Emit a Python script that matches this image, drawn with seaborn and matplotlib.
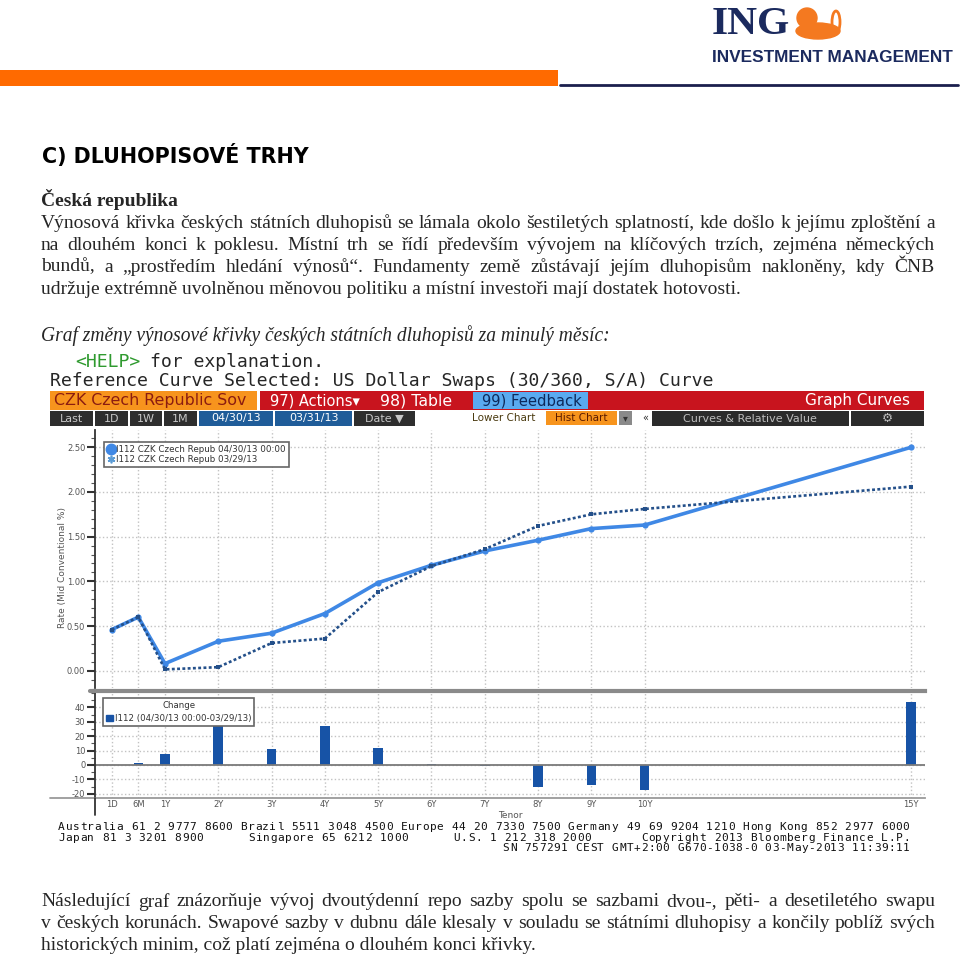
import matplotlib
matplotlib.use("Agg")
import matplotlib.pyplot as plt
import seaborn as sns
from matplotlib.patches import Rectangle, Ellipse, Circle, Patch
from matplotlib.lines import Line2D
from matplotlib.ticker import MultipleLocator

# tenors and curves
tenor_labels = ["1D", "6M", "1Y", "2Y", "3Y", "4Y", "5Y", "6Y", "7Y", "8Y", "9Y", "10Y", "15Y"]
tenor_years = [0.0, 0.5, 1, 2, 3, 4, 5, 6, 7, 8, 9, 10, 15]
curve_apr30 = [0.46, 0.60, 0.08, 0.33, 0.42, 0.64, 0.985, 1.18, 1.34, 1.46, 1.59, 1.63, 2.50]
curve_mar29 = [0.46, 0.60, 0.015, 0.04, 0.31, 0.36, 0.88, 1.17, 1.36, 1.62, 1.75, 1.81, 2.06]
change_bp = [0.3, 1.2, 7.4, 30, 10.9, 27.2, 11.5, 1.0, -1.0, -15.5, -13.9, -17.6, 43.9]
rate_ticks = [0.0, 0.5, 1.0, 1.5, 2.0, 2.5]
change_ticks = [-20, -10, 0, 10, 20, 30, 40]

# page text
heading = "C) DLUHOPISOVÉ TRHY"
subheading = "Česká republika"
para1 = [
    "Výnosová křivka českých státních dluhopisů se lámala okolo šestiletých splatností, kde došlo k jejímu zploštění a",
    "na dlouhém konci k poklesu. Místní trh se řídí především vývojem na klíčových trzích, zejména německých",
    "bundů, a „prostředím hledání výnosů“. Fundamenty země zůstávají jejím dluhopisům nakloněny, kdy ČNB",
    "udržuje extrémně uvolněnou měnovou politiku a místní investoři mají dostatek hotovosti.",
]
chart_caption = "Graf změny výnosové křivky českých státních dluhopisů za minulý měsíc:"
para2 = [
    "Následující graf znázorňuje vývoj dvoutýdenní repo sazby spolu se sazbami dvou-, pěti- a desetiletého swapu",
    "v českých korunách. Swapové sazby v dubnu dále klesaly v souladu se státními dluhopisy a končily poblíž svých",
    "historických minim, což platí zejména o dlouhém konci křivky.",
]
footer_lines = [
    "Australia 61 2 9777 8600 Brazil 5511 3048 4500 Europe 44 20 7330 7500 Germany 49 69 9204 1210 Hong Kong 852 2977 6000",
    "SN 757291 CEST GMT+2:00 G670-1038-0 03-May-2013 11:39:11",
]
footer_mid = ["Japan 81 3 3201 8900", "Singapore 65 6212 1000", "U.S. 1 212 318 2000",
              "Copyright 2013 Bloomberg Finance L.P."]

sns.set_style("white")
plt.rcParams["font.family"] = ["DejaVu Sans"]
plt.rcParams["axes.unicode_minus"] = False

W, H = 960, 957
fig = plt.figure(figsize=(W / 100, H / 100), dpi=100)
fig.patch.set_facecolor("white")
rend = fig.canvas.get_renderer()


def box(x0, y0, x1, y1, color, ec="none", lw=0):
    fig.patches.append(Rectangle((x0 / W, 1 - y1 / H), (x1 - x0) / W, (y1 - y0) / H,
                                 transform=fig.transFigure, facecolor=color,
                                 edgecolor=ec, linewidth=lw))


def hline(x0, x1, y, color, lw):
    fig.lines.append(Line2D([x0 / W, x1 / W], [1 - y / H, 1 - y / H],
                            transform=fig.transFigure, color=color, lw=lw))


def vline(x, y0, y1, color, lw):
    fig.lines.append(Line2D([x / W, x / W], [1 - y0 / H, 1 - y1 / H],
                            transform=fig.transFigure, color=color, lw=lw))


def put(x, y, s, size, family="DejaVu Sans", ha="left", width=None, **kw):
    t = fig.text(x / W, 1 - y / H, s, fontsize=size, family=family, ha=ha, va="center", **kw)
    if width:
        w = t.get_window_extent(rend).width
        t.set_fontsize(size * width / w)
    return t


def justified(y, line, size=14, x0=41, x1=935):
    words = line.split(" ")
    objs = [put(x0, y, w, size, family="Liberation Serif") for w in words]
    widths = [o.get_window_extent(rend).width for o in objs]
    gap = (x1 - x0 - sum(widths)) / (len(words) - 1)
    x = x0
    for o, w in zip(objs, widths):
        o.set_x(x / W)
        x += w + gap


CW = 7.28  # character cell of the Bloomberg terminal footer


def mono_line(x0, y, s, size=8):
    for i, ch in enumerate(s):
        if ch != " ":
            put(x0 + (i + 0.5) * CW, y, ch, size, family="DejaVu Sans Mono", ha="center",
                color="#111111")


# ---- header with logo
box(0, 70, 558, 86, "#ff6a00")
hline(560, 958, 85, "#1b1f4d", 2)
put(712, 25, "ING", 30, family="Liberation Serif", weight="bold", color="#1b2a5e", width=78)
lion = "#f47920"
fig.patches.append(Ellipse((818 / W, 1 - 31 / H), 44 / W, 16 / H, transform=fig.transFigure, color=lion))
fig.patches.append(Circle((807 / W, 1 - 18 / H), 10 / W, transform=fig.transFigure, color=lion))
fig.patches.append(Ellipse((836 / W, 1 - 22 / H), 8 / W, 22 / H, transform=fig.transFigure,
                           facecolor="none", edgecolor=lion, lw=2))
put(712, 57, "INVESTMENT MANAGEMENT", 13, family="Liberation Sans", weight="bold",
    color="#1b2a5e", width=243)

# ---- section text
put(42, 156, heading, 15, weight="bold", color="black", width=267)
put(41, 200, subheading, 14, family="Liberation Serif", weight="bold")
for y, line in zip([223, 245, 267], para1[:3]):
    justified(y, line)
put(41, 290, para1[3], 14, family="Liberation Serif")
put(41, 336, chart_caption, 14, family="Liberation Serif", style="italic", width=571)

# ---- Bloomberg screen header
mono = "DejaVu Sans Mono"
ref = put(50, 381, "Reference Curve Selected: US Dollar Swaps (30/360, S/A) Curve", 13,
          family=mono, width=668)
msize = ref.get_fontsize()
put(75, 362, "<HELP>", msize, family=mono, color="#2f9a2f")
put(150, 362, "for explanation.", msize, family=mono)

# toolbar row 1
box(50, 391, 257, 410, "#f7941d")
put(54, 400.5, "CZK Czech Republic Sov", 11, color="#8b1c10", width=193)
box(260, 391, 924, 410, "#c8141e")
put(270, 400.5, "97) Actions▾", 11, color="white", width=90)
put(380, 400.5, "98) Table", 11, color="white", width=72)
box(473, 392, 588, 409, "#5aaaf0")
put(482, 400.5, "99) Feedback", 11, color="#0d2a5c", width=100)
put(910, 400.5, "Graph Curves", 11, ha="right", color="white")

# toolbar row 2
row2 = [(50, 93, "Last", "#2e2e2e"), (95, 128, "1D", "#2e2e2e"), (130, 162, "1W", "#2e2e2e"),
        (164, 197, "1M", "#2e2e2e"), (199, 273, "04/30/13", "#1f5c99"),
        (275, 352, "03/31/13", "#1f5c99"), (354, 415, "Date ▼", "#2e2e2e")]
for x0, x1, lab, col in row2:
    box(x0, 411, x1, 426, col)
    put((x0 + x1) / 2, 418.5, lab, 8, ha="center",
        color="white" if col == "#1f5c99" else "#c8c8c8")
put(472, 418, "Lower Chart", 7.5, color="#4a3a10")
box(546, 411, 617, 425, "#f7941d")
put(581, 418, "Hist Chart", 7.5, ha="center", color="#5a1a00")
box(619, 411, 632, 425, "#8a8a8a")
put(625.5, 418, "▾", 7, ha="center", color="#333333")
put(645, 418, "«", 7, ha="center", color="#333333")
box(652, 411, 849, 426, "#2b2b2b")
put(750, 418.5, "Curves & Relative Value", 8, ha="center", color="#bdbdbd")
box(851, 411, 924, 426, "#2b2b2b")
put(887, 418.5, "⚙", 9, ha="center", color="#bdbdbd")

# ---- upper chart: yield curves
ax1 = fig.add_axes([95 / W, 1 - 688 / H, 830 / W, 258 / H])
sns.lineplot(x=tenor_years, y=curve_apr30, ax=ax1, color="#3f88e5", lw=2.6,
             marker="o", markersize=4.5, markeredgewidth=0)
sns.lineplot(x=tenor_years, y=curve_mar29, ax=ax1, color="#24508a", lw=1.9,
             linestyle=(0, (1.1, 0.9)), marker="s", markersize=3, markeredgewidth=0)
ax1.set_xlim(-0.313, 15.26)
ax1.set_ylim(-0.193, 2.693)
ax1.set_xticks(tenor_years)
ax1.set_yticks(rate_ticks)
ax1.set_yticklabels([f"{v:.2f}" for v in rate_ticks])
ax1.yaxis.set_minor_locator(MultipleLocator(0.1))
ax1.tick_params(axis="x", length=0, labelbottom=False)
ax1.tick_params(axis="y", which="major", left=True, length=6, width=1.5, color="#333333",
                labelsize=6, labelcolor="#555555", pad=1)
ax1.tick_params(axis="y", which="minor", left=True, length=3, width=0.8, color="#555555")
ax1.grid(True, which="major", linestyle=":", color="#c2c2c2", lw=1)
for side in ["top", "right", "bottom"]:
    ax1.spines[side].set_visible(False)
ax1.spines["left"].set_color("#333333")
ax1.spines["left"].set_linewidth(1.3)
ax1.set_xlabel("")
ax1.set_ylabel("")
leg1 = ax1.legend(handles=[
    Line2D([], [], lw=0, marker="o", ms=7.5, color="#3f88e5"),
    Line2D([], [], lw=0, marker=(6, 2, 0), ms=5.5, color="#5b9bd5", markeredgewidth=1.2)],
    labels=["I112 CZK Czech Repub 04/30/13 00:00", "I112 CZK Czech Repub 03/29/13"],
    loc="upper left", bbox_to_anchor=(5 / 830, 1 - 8 / 258), fontsize=6.3,
    frameon=True, fancybox=False, framealpha=1, edgecolor="#666666",
    borderpad=0.35, handlelength=0.8, handletextpad=0.2, labelspacing=0.1)
leg1.get_frame().set_linewidth(1.2)
for t in leg1.get_texts():
    t.set_color("#333333")
put(62, 567, "Rate (Mid Conventional %)", 6.5, ha="center", rotation=90, color="#555555")

# ---- lower chart: change in bp
ax2 = fig.add_axes([95 / W, 1 - 798 / H, 830 / W, 107 / H])
sns.barplot(x=tenor_years, y=change_bp, ax=ax2, native_scale=True, width=0.36,
            color="#1753a6", saturation=1, edgecolor="none")
ax2.axhline(0, color="#7a7a7a", lw=1.3, zorder=1)
ax2.set_xlim(-0.313, 15.26)
ax2.set_ylim(-22.9, 51.3)
ax2.set_xticks(tenor_years)
ax2.set_xticklabels(tenor_labels)
ax2.set_yticks(change_ticks)
ax2.yaxis.set_minor_locator(MultipleLocator(5))
ax2.tick_params(axis="x", length=0, labelsize=6, labelcolor="#555555", pad=1.5)
ax2.tick_params(axis="y", which="major", left=True, length=6, width=1.5, color="#333333",
                labelsize=6, labelcolor="#555555", pad=1)
ax2.tick_params(axis="y", which="minor", left=True, length=3, width=0.8, color="#555555")
ax2.grid(True, which="major", linestyle=":", color="#c2c2c2", lw=1)
ax2.set_axisbelow(True)
ax2.spines["right"].set_visible(False)
ax2.spines["top"].set_color("#8a8a8a")
ax2.spines["top"].set_linewidth(3)
ax2.spines["bottom"].set_color("#9a9a9a")
ax2.spines["bottom"].set_linewidth(1.3)
ax2.spines["left"].set_color("#333333")
ax2.spines["left"].set_linewidth(1.3)
ax2.set_xlabel("")
ax2.set_ylabel("")
leg2 = ax2.legend(handles=[Patch(color="#1753a6")], labels=["I112 (04/30/13 00:00-03/29/13)"],
                  title="Change", loc="upper left", bbox_to_anchor=(4 / 830, 1 - 3 / 107),
                  fontsize=6.2, title_fontsize=6.2, frameon=True, fancybox=False, framealpha=1,
                  edgecolor="#666666", borderpad=0.3, handlelength=0.8, handleheight=0.8,
                  handletextpad=0.3)
leg2.get_frame().set_linewidth(1.2)
for t in leg2.get_texts():
    t.set_color("#333333")
leg2.get_title().set_color("#333333")
hline(50, 95, 798, "#9a9a9a", 1.3)
hline(90, 95, 691, "#8a8a8a", 3)
vline(95, 798, 815, "#333333", 1.3)
put(510, 815, "Tenor", 6.5, ha="center", color="#555555")

# ---- Bloomberg footer, on the terminal's character grid
mono_line(58, 827, footer_lines[0])
for x0, s in zip([58, 248, 453], footer_mid[:3]):
    mono_line(x0, 838, s)
mono_line(910 - len(footer_mid[3]) * CW, 838, footer_mid[3])
mono_line(910 - len(footer_lines[1]) * CW, 848, footer_lines[1])

# ---- closing paragraph
for y, line in zip([902, 924], para2[:2]):
    justified(y, line)
put(41, 946, para2[2], 14, family="Liberation Serif")

fig.savefig("out.png", dpi=100, facecolor="white")
